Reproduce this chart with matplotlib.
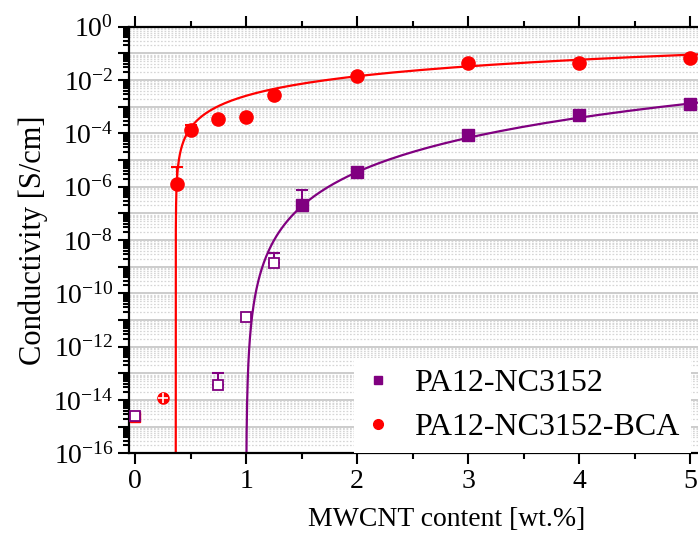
import numpy as np
import matplotlib
matplotlib.use("Agg")
import matplotlib.pyplot as plt
from matplotlib.ticker import LogLocator, FuncFormatter, MultipleLocator, NullFormatter

plt.rcParams['font.family'] = ['Liberation Serif', 'DejaVu Serif']
plt.rcParams['mathtext.fontset'] = 'custom'
plt.rcParams['mathtext.rm'] = 'Liberation Serif'

# datos (log10 de la conductividad)
x_nc_open = [0.0, 0.75, 1.0, 1.25]
log_nc_open = [-14.6, -13.43, -10.9, -8.87]
x_nc = [1.5, 2.0, 3.0, 4.0, 5.0]
log_nc = [-6.69, -5.44, -4.05, -3.31, -2.9]

x_bca_low = [0.0, 0.25]
log_bca_low = [-14.63, -13.93]
x_bca = [0.375, 0.5, 0.75, 1.0, 1.25, 2.0, 3.0, 4.0, 5.0]
log_bca = [-5.9, -3.88, -3.47, -3.40, -2.56, -1.84, -1.37, -1.35, -1.16]

# barras de error (solo hacia arriba)
err_x_nc = [0.75, 1.25, 1.5]
err_log_nc = [-13.43, -8.87, -6.69]
err_top_nc = [-13.0, -8.5, -6.12]
err_x_bca = [0.375, 0.5]
err_log_bca = [-5.9, -3.88]
err_top_bca = [-5.27, -3.69]

# ajuste de percolacion: sigma = sigma0 * (x - xc)^t
fit_bca = dict(log_s0=-2.237, xc=0.367, t=1.783)
fit_nc = dict(log_s0=-5.45, xc=1.0, t=4.27)

RED = '#ff0000'
PURPLE = '#800080'


def fit_curve(p, xmax=5.4):
    dx = np.logspace(-10, np.log10(xmax - p['xc']), 600)
    return p['xc'] + dx, 10 ** (p['log_s0'] + p['t'] * np.log10(dx))


def upper_err(ax, xs, lo, hi, color):
    y = 10 ** np.array(lo)
    up = 10 ** np.array(hi) - y
    ax.errorbar(xs, y, yerr=[np.zeros_like(up), up], fmt='none', ecolor=color,
                elinewidth=1.5, capsize=4, capthick=1.5, zorder=3)


fig = plt.figure(figsize=(6.98, 5.41), dpi=100)
ax = fig.add_axes([129.4 / 698, 1 - 453.3 / 541, 583.3 / 698, 426.6 / 541])

ax.set_yscale('log')
ax.set_xlim(-0.05, 5.2)
ax.set_ylim(1e-16, 1)

# rejilla
ax.yaxis.set_major_locator(LogLocator(base=10, numticks=30))
ax.yaxis.set_minor_locator(LogLocator(base=10, subs=np.arange(2, 10), numticks=30))
ax.grid(True, which='major', axis='y', color='#c4c4c4', lw=1.2, zorder=0)
ax.grid(True, which='minor', axis='y', color='#d6d6d6', lw=0.9,
        linestyle=(0, (1.4, 1.4)), zorder=0)

# curvas de ajuste
xf, yf = fit_curve(fit_bca)
ax.plot(xf, yf, color=RED, lw=1.6, zorder=2)
xf, yf = fit_curve(fit_nc)
ax.plot(xf, yf, color=PURPLE, lw=1.6, zorder=2)

upper_err(ax, err_x_nc, err_log_nc, err_top_nc, PURPLE)
upper_err(ax, err_x_bca, err_log_bca, err_top_bca, RED)

# puntos
ax.plot(x_bca_low[:1], 10 ** np.array(log_bca_low[:1]), 's', color=RED, ms=7.5, zorder=4)
ax.plot(x_bca_low[1:], 10 ** np.array(log_bca_low[1:]), 'o', color=RED, ms=8, zorder=4)
ax.plot(x_bca_low[1:], 10 ** np.array(log_bca_low[1:]), '+', color='white',
        ms=7, mew=1.2, zorder=5)
ax.plot(x_nc_open, 10 ** np.array(log_nc_open), 's', mfc='white', mec=PURPLE,
        mew=1.3, ms=7, zorder=5)
ax.plot(x_bca, 10 ** np.array(log_bca), 'o', color=RED, ms=9.5, zorder=4)
ax.plot(x_nc, 10 ** np.array(log_nc), 's', color=PURPLE, ms=8.5, zorder=4)

# leyenda
h1, = ax.plot([], [], 's', color=PURPLE, ms=6, label='PA12-NC3152')
h2, = ax.plot([], [], 'o', color=RED, ms=7, label='PA12-NC3152-BCA')
leg = ax.legend(handles=[h1, h2], loc='lower right', bbox_to_anchor=(0.963, 0.0),
                fontsize=23, frameon=True, fancybox=False, framealpha=1,
                edgecolor='none', handlelength=0.8, handletextpad=0.75,
                borderpad=0.35, labelspacing=0.45, borderaxespad=0)
leg.set_zorder(6)

# ejes y marcas
def fmt_y(v, pos):
    e = int(round(np.log10(v)))
    if e % 2:
        return ''
    return r'$\mathregular{10^{%d}}$' % e

ax.yaxis.set_major_formatter(FuncFormatter(fmt_y))
ax.yaxis.set_minor_formatter(NullFormatter())
ax.xaxis.set_major_locator(MultipleLocator(1))
ax.xaxis.set_minor_locator(MultipleLocator(0.5))

ax.tick_params(axis='both', which='both', direction='out', labelsize=20, width=1.5)
ax.tick_params(axis='both', which='major', length=8)
ax.tick_params(axis='both', which='minor', length=4)
ax.tick_params(axis='x', top=True, which='both')
ax.tick_params(axis='y', right=False, which='both')
for s in ax.spines.values():
    s.set_linewidth(1.6)

ax.set_xlabel('MWCNT content [wt.%]', fontsize=20)
ax.xaxis.set_label_coords(0.543, -0.125)
ax.set_ylabel('Conductivity [S/cm]', fontsize=22, labelpad=4)

fig.savefig('out.png', dpi=100)
